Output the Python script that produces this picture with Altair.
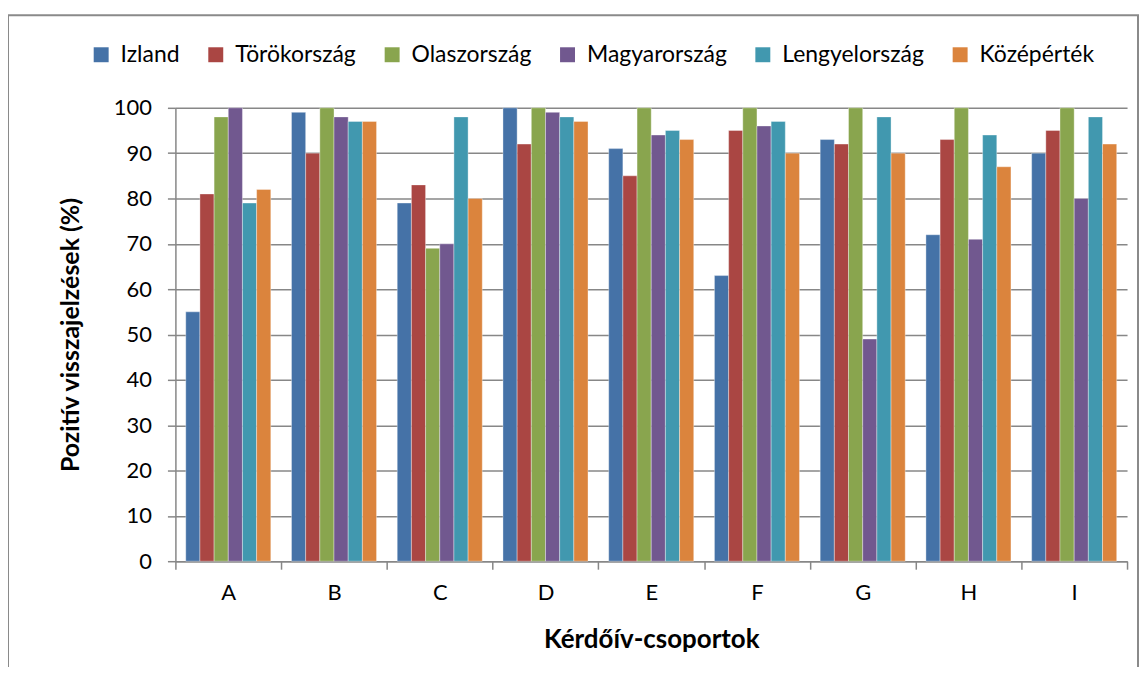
import altair as alt
import pandas as pd

categories = ["A", "B", "C", "D", "E", "F", "G", "H", "I"]
series = ["Izland", "Törökország", "Olaszország", "Magyarország", "Lengyelország", "Középérték"]
izland = [55, 99, 79, 100, 91, 63, 93, 72, 90]
torokorszag = [81, 90, 83, 92, 85, 95, 92, 93, 95]
olaszorszag = [98, 100, 69, 100, 100, 100, 100, 100, 100]
magyarorszag = [100, 98, 70, 99, 94, 96, 49, 71, 80]
lengyelorszag = [79, 97, 98, 98, 95, 97, 98, 94, 98]
kozepertek = [82, 97, 80, 97, 93, 90, 90, 87, 92]
colors = ["#4572A7", "#AA4643", "#89A54E", "#71588F", "#4198AF", "#DB843D"]
y_ticks = list(range(0, 101, 10))

values = [izland, torokorszag, olaszorszag, magyarorszag, lengyelorszag, kozepertek]
rows = []
for s, vals in zip(series, values):
    for c, v in zip(categories, vals):
        rows.append({"csoport": c, "orszag": s, "ertek": v})
df = pd.DataFrame(rows)

FONT = "Lato"
GRID = "#878787"

bars = alt.Chart(df).mark_bar(stroke="white", strokeOpacity=0.45, strokeWidth=0.8).encode(
    x=alt.X("csoport:N", sort=categories,
            scale=alt.Scale(paddingInner=0, paddingOuter=0),
            axis=alt.Axis(title="Kérdőív-csoportok", labelAngle=0, tickBand="extent",
                          tickSize=8, labelPadding=13, titlePadding=24,
                          titleFontSize=26)),
    xOffset=alt.XOffset("orszag:N", sort=series,
                        scale=alt.Scale(paddingOuter=0.73, paddingInner=0)),
    y=alt.Y("ertek:Q", scale=alt.Scale(domain=[0, 100], nice=False),
            axis=alt.Axis(title="Pozitív visszajelzések (%)", values=y_ticks,
                          tickSize=8, labelPadding=16, titlePadding=30, grid=True,
                          titleFontSize=25)),
    color=alt.Color("orszag:N", sort=series,
                    scale=alt.Scale(domain=series, range=colors),
                    legend=alt.Legend(title=None, orient="none", direction="horizontal",
                                      legendX=-86, legendY=-65, symbolType="square",
                                      symbolSize=225, symbolStrokeWidth=0,
                                      labelFontSize=23, labelFont=FONT,
                                      columnPadding=24, labelOffset=8)),
)

frame = alt.Chart(pd.DataFrame({"a": [0]})).mark_rect(
    fill=None, stroke="#8a8a8a", strokeWidth=2
).encode(
    x=alt.value(-168), x2=alt.value(966), y=alt.value(-93), y2=alt.value(700)
)

chart = alt.layer(frame, bars).properties(
    width=955, height=455,
    autosize=alt.AutoSizeParams(type="none"),
    padding={"left": 168, "top": 99, "right": 12, "bottom": 105},
).configure_view(stroke=None).configure_axis(
    labelFont=FONT, titleFont=FONT, labelFontSize=22,
    labelColor="black", titleColor="black", titleFontWeight="bold",
    domainColor=GRID, domainWidth=1.5, tickColor=GRID, tickWidth=1.5,
    gridColor=GRID, gridWidth=1.5,
).configure_legend(labelColor="black")

chart.save("out.html", embed_options={"renderer": "svg", "actions": False})
